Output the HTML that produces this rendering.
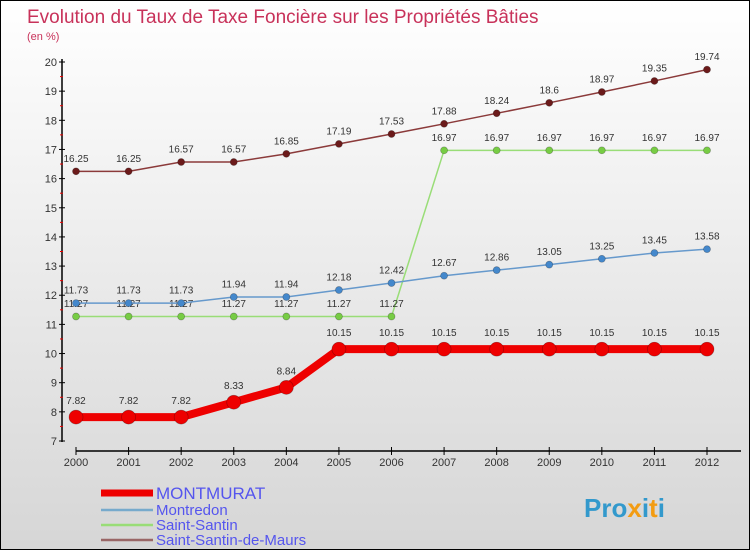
<!DOCTYPE html>
<html><head><meta charset="utf-8"><style>
body{margin:0}
#c{width:750px;height:550px;position:relative;box-sizing:border-box;border:1px solid #000;background:linear-gradient(#fff,#d6d6d6);font-family:"Liberation Sans",sans-serif;overflow:hidden}
svg text{font-family:"Liberation Sans",sans-serif}
</style></head><body>
<div id="c">
<svg width="750" height="550" id="s">
<text x="26" y="22" font-size="19" fill="#c8325a">Evolution du Taux de Taxe Foncière sur les Propriétés Bâties</text>
<text x="26" y="39" font-size="11" fill="#c8325a">(en %)</text>
</svg></div>
<script>
const years=[2000,2001,2002,2003,2004,2005,2006,2007,2008,2009,2010,2011,2012];
const montmurat=[7.82,7.82,7.82,8.33,8.84,10.15,10.15,10.15,10.15,10.15,10.15,10.15,10.15];
const montredon=[11.73,11.73,11.73,11.94,11.94,12.18,12.42,12.67,12.86,13.05,13.25,13.45,13.58];
const saintSantin=[11.27,11.27,11.27,11.27,11.27,11.27,11.27,16.97,16.97,16.97,16.97,16.97,16.97];
const saintMaurs=[16.25,16.25,16.57,16.57,16.85,17.19,17.53,17.88,18.24,18.6,18.97,19.35,19.74];
const yTicks=[7,8,9,10,11,12,13,14,15,16,17,18,19,20];
const seriesNames=["MONTMURAT","Montredon","Saint-Santin","Saint-Santin-de-Maurs"];
const NS="http://www.w3.org/2000/svg",s=document.getElementById('s');
const X=i=>75+i*(706-75)/(years.length-1);
const Y=v=>440-(v-7)*(440-61)/13;
function el(t,a,p){const e=document.createElementNS(NS,t);for(const k in a)e.setAttribute(k,a[k]);(p||s).appendChild(e);return e;}
// axes
let ax=el('line',{x1:61,y1:58,x2:61,y2:441,stroke:'#000','stroke-width':1.5});


let xa=el('line',{x1:75,y1:450,x2:740,y2:450,stroke:'#000','stroke-width':1.5});


yTicks.forEach((v,i)=>{
 el('line',{x1:58,x2:64,y1:Y(v),y2:Y(v),stroke:'#000'});
 if(i<yTicks.length-1)el('line',{x1:59,x2:62,y1:Y(v+0.5),y2:Y(v+0.5),stroke:'#e00'});
 const t=el('text',{x:56,y:Y(v)+4,'font-size':11,'text-anchor':'end',fill:'#333'});t.textContent=v;
 
 
});
years.forEach((y,i)=>{
 el('line',{x1:X(i),x2:X(i),y1:446,y2:454,stroke:'#000'});
 const t=el('text',{x:X(i),y:465,'font-size':11,'text-anchor':'middle',fill:'#333'});t.textContent=y;
 
 
});
function series(d,col,dot,w,r,name){
 const g=el('g',{});
 
 
 el('polyline',{points:d.map((v,i)=>X(i)+','+Y(v)).join(' '),fill:'none',stroke:col,'stroke-width':w},g);
 d.forEach((v,i)=>{el('circle',{cx:X(i),cy:Y(v),r:r,fill:dot,stroke:'rgba(0,0,0,0.3)','stroke-width':0.7},g);
  const t=el('text',{x:X(i),y:Y(v)-(r+6),'font-size':10,'text-anchor':'middle',fill:'#333'},g);t.textContent=v;
  
  });
}
series(saintSantin,'#99dd77','#77cc44',1.5,3.5,'series-saint-santin');
series(montredon,'#6699cc','#4488cc',1.5,3.5,'series-montredon');
series(saintMaurs,'#8b3a3a','#6b1a1a',1.5,3.5,'series-saint-santin-de-maurs');
series(montmurat,'#ee0000','#ee0000',8,7,'series-montmurat');
const lc=['#ee0000','#77aacc','#99dd77','#996666'],lw=[7,2.5,2.5,2.5],ly=[492,509,524,539];
seriesNames.forEach((n,i)=>{
 el('line',{x1:100,x2:152,y1:ly[i],y2:ly[i],stroke:lc[i],'stroke-width':lw[i]});
 const t=el('text',{x:155,y:ly[i]+(i?5:6),'font-size':i?15:17,fill:'#5555ee'});t.textContent=n;
 
 
});
const p=el('text',{x:583,y:516,'font-size':26,'font-weight':'bold',fill:'#3399cc'});
p.innerHTML='Pro<tspan fill="#f39c12">x</tspan>i<tspan fill="#f39c12">t</tspan>i';


</script>
</body></html>
